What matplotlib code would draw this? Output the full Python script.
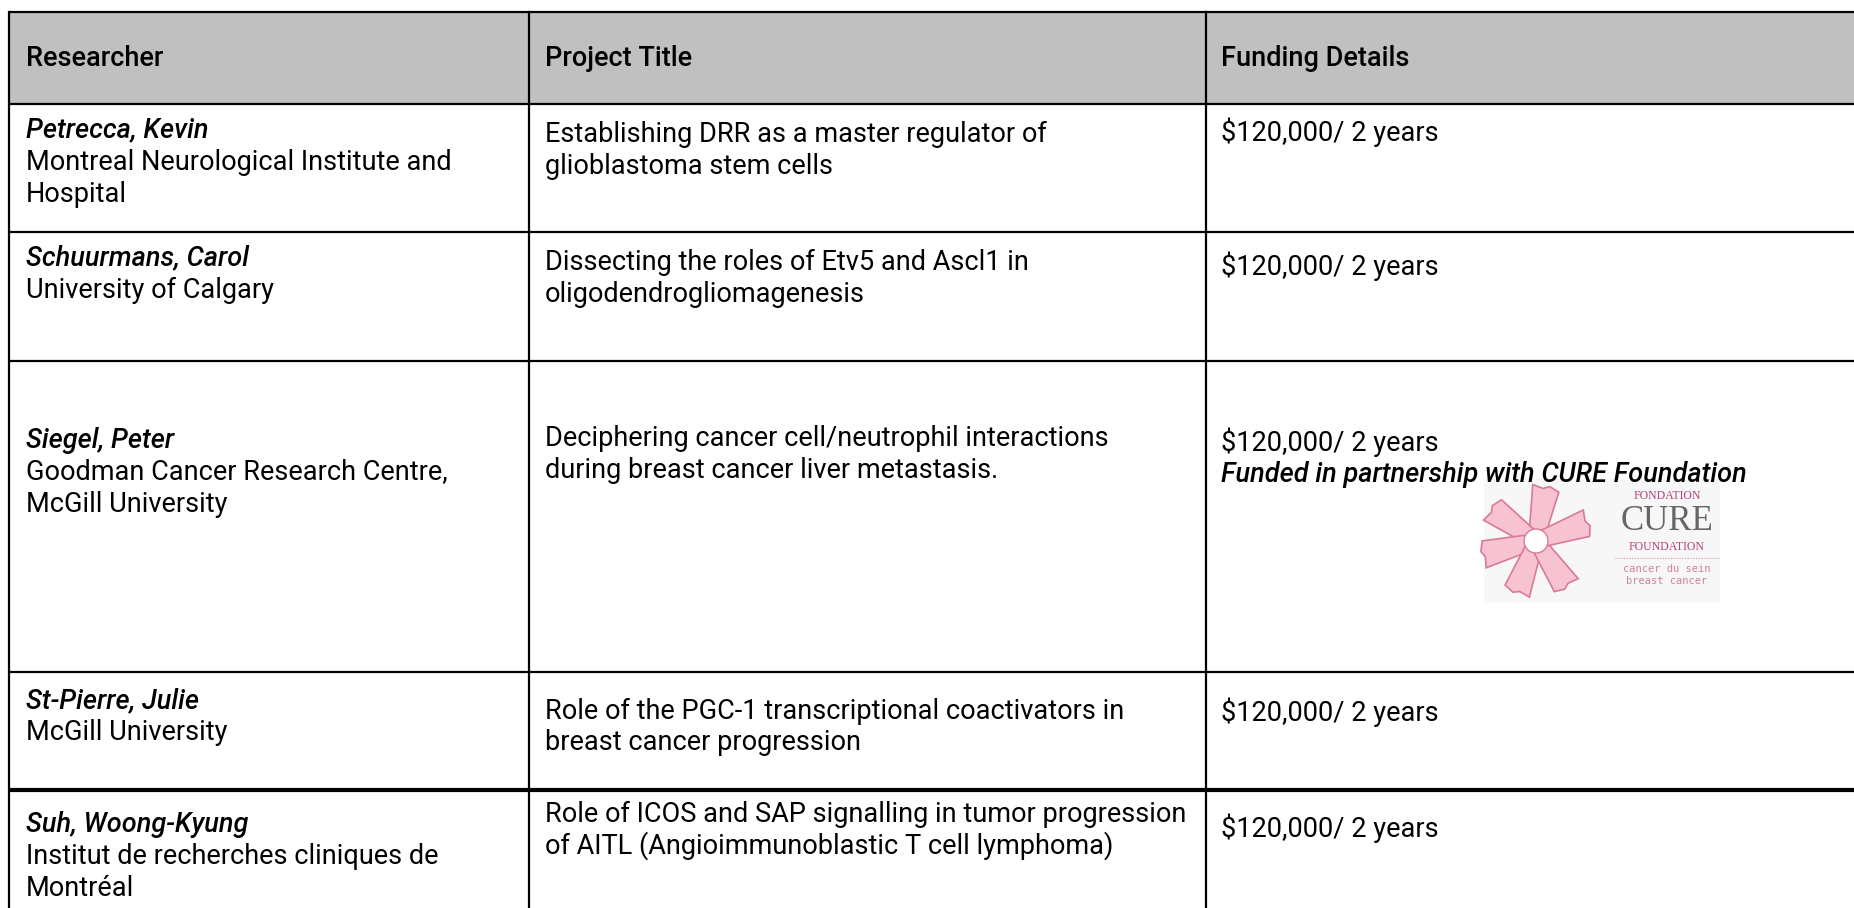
import matplotlib
matplotlib.use("Agg")
import matplotlib.pyplot as plt
from matplotlib.patches import Rectangle, Polygon, Circle
from matplotlib import font_manager as fm
import numpy as np

# ---------------- data ----------------
headers = ["Researcher", "Project Title", "Funding Details"]
researchers = ["Petrecca, Kevin", "Schuurmans, Carol", "Siegel, Peter",
               "St-Pierre, Julie", "Suh, Woong-Kyung"]
institutions = [["Montreal Neurological Institute and", "Hospital"],
                ["University of Calgary"],
                ["Goodman Cancer Research Centre,", "McGill University"],
                ["McGill University"],
                ["Institut de recherches cliniques de", "Montréal"]]
titles = [["Establishing DRR as a master regulator of", "glioblastoma stem cells"],
          ["Dissecting the roles of Etv5 and Ascl1 in", "oligodendrogliomagenesis"],
          ["Deciphering cancer cell/neutrophil interactions", "during breast cancer liver metastasis."],
          ["Role of the PGC-1 transcriptional coactivators in", "breast cancer progression"],
          ["Role of ICOS and SAP signalling in tumor progression", "of AITL (Angioimmunoblastic T cell lymphoma)"]]
funding = ["$120,000/ 2 years"] * 5
partner_note = [None, None, "Funded in partnership with CURE Foundation", None, None]

# ---------------- layout (pixels) ----------------
W, H = 1854, 908
row_edges = [12, 104, 232, 361, 672, 790, 940]
col_edges = [9, 529, 1206, 1900]
text_x = [26, 545, 1221]
line_h = 32
name_y = [130, 258, 440, 701, 824]
title_y = [134, 262, 439, 711, 814]
fund_y = [132, 266, 442, 712, 828]

names = {f.name for f in fm.fontManager.ttflist}
family = "Roboto" if "Roboto" in names else "DejaVu Sans"
fs = 19.5

fig = plt.figure(figsize=(W / 100, H / 100), dpi=100)
ax = fig.add_axes([0, 0, 1, 1])
ax.set_xlim(0, W)
ax.set_ylim(H, 0)
ax.axis("off")

# header background
ax.add_patch(Rectangle((col_edges[0], row_edges[0]), col_edges[-1] - col_edges[0],
                       row_edges[1] - row_edges[0], facecolor="#c0c0c0", edgecolor="none", zorder=0))

# grid lines
lw = 1.6
for i, y in enumerate(row_edges[:-1]):
    ax.plot([col_edges[0], col_edges[-1]], [y, y], color="black",
            lw=3.0 if i == 5 else lw, solid_capstyle="butt", zorder=3)
for x in col_edges[:-1]:
    ax.plot([x, x], [row_edges[0], row_edges[-1]], color="black", lw=lw, zorder=3)

# header text
for hx, h in zip(text_x, headers):
    ax.text(hx, 59, h, fontsize=fs, family=family, weight="medium",
            va="center", ha="left", color="black")

# rows
for i in range(len(researchers)):
    ax.text(text_x[0], name_y[i], researchers[i], fontsize=fs, family=family,
            style="italic", weight="medium", va="center", ha="left")
    for k, line in enumerate(institutions[i]):
        ax.text(text_x[0], name_y[i] + (k + 1) * line_h, line, fontsize=fs,
                family=family, va="center", ha="left")
    for k, line in enumerate(titles[i]):
        ax.text(text_x[1], title_y[i] + k * line_h, line, fontsize=fs,
                family=family, va="center", ha="left")
    ax.text(text_x[2], fund_y[i], funding[i], fontsize=fs, family=family,
            va="center", ha="left")
    if partner_note[i]:
        ax.text(text_x[2], fund_y[i] + line_h, partner_note[i], fontsize=fs,
                family=family, style="italic", weight="medium", va="center", ha="left")

# ---------------- CURE Foundation logo ----------------
ax.add_patch(Rectangle((1484, 479), 236, 124, facecolor="#f7f7f7", edgecolor="none", zorder=1))
cx, cy = 1536, 541
for ang in [80, 145, 195, 250, 305, 20]:
    a = np.deg2rad(ang)
    d = np.array([np.cos(a), -np.sin(a)])
    p = np.array([np.sin(a), np.cos(a)])
    c = np.array([cx, cy])
    pts = [c + 6 * d + 8 * p, c + 52 * d + 14 * p, c + 56 * d + 4 * p,
           c + 53 * d - 2 * p, c + 55 * d - 13 * p, c + 6 * d - 8 * p]
    ax.add_patch(Polygon(pts, closed=True, facecolor="#f7c3d1", edgecolor="#d87a98",
                         lw=1.2, zorder=2))
ax.add_patch(Circle((cx, cy), 12, facecolor="white", edgecolor="#d87a98", lw=1, zorder=3))
lx = 1667
ax.text(lx, 496, "FONDATION", fontsize=8.5, family="Liberation Serif", color="#b5407a",
        ha="center", va="center", zorder=4)
ax.text(lx, 522, "CURE", fontsize=25, family="Liberation Serif", color="#666666",
        ha="center", va="center", zorder=4)
ax.text(lx, 547, "FOUNDATION", fontsize=8.5, family="Liberation Serif", color="#b5407a",
        ha="center", va="center", zorder=4)
ax.plot([1615, 1720], [558, 558], color="#c9a0b0", lw=0.8, ls=(0, (1, 1.5)), zorder=4)
ax.text(lx, 569, "cancer du sein", fontsize=7.5, family="DejaVu Sans Mono", color="#d080a0",
        ha="center", va="center", zorder=4)
ax.text(lx, 581, "breast cancer", fontsize=7.5, family="DejaVu Sans Mono", color="#d080a0",
        ha="center", va="center", zorder=4)

fig.savefig("out.png", dpi=100)
